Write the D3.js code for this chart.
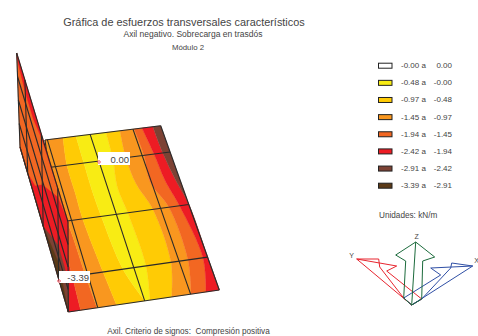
<!DOCTYPE html>
<html>
<head>
<meta charset="utf-8">
<script src="https://cdnjs.cloudflare.com/ajax/libs/d3/7.8.5/d3.min.js"></script>
<style>
body { margin: 0; background: #fff; }
text { font-family: "Liberation Sans", Arial, sans-serif; fill: #444; }
</style>
</head>
<body>
<svg id="chart" width="478" height="336"></svg>
<script>
// legend
var legendHigh = ['-0.00 a', '-0.48 a', '-0.97 a', '-1.45 a', '-1.94 a', '-2.42 a', '-2.91 a', '-3.39 a'];
var legendLow = ['0.00', '-0.00', '-0.48', '-0.97', '-1.45', '-1.94', '-2.42', '-2.91'];
var legendColors = ['#ffffff', '#f8ec14', '#ffcb05', '#f9971f', '#f26722', '#ed1c24', '#7c4234', '#5b3a17'];

// floor slab: contour boundaries, fraction across the slab at each station along it
var floorV = [0, 0.16, 0.32, 0.48, 0.8, 1];
var redDark = [0, 0, 0, 0.02, 0.06, 0.082];
var darkOrange = [0, 0, 0, 0.08, 0.15, 0.19];
var orangeGold = [0.156, 0.15, 0.177, 0.2, 0.274, 0.32];
var goldYellow = [0.268, 0.29, 0.31, 0.34, 0.4125, 0.508];
var yellowGold = [0.527, 0.53, 0.51, 0.54, 0.572, 0.541];
var goldOrange = [0.648, 0.636, 0.66, 0.73, 0.746, 0.685];
var orangeDark = [0.769, 0.785, 0.77, 0.85, 0.864, 0.813];
var darkRed = [0.838, 0.868, 0.886, 0.93, 0.968, 0.912];
var redBrown = [0.933, 0.94, 0.965, 1, 1, 1];
var floorGridV = [0, 0.16, 0.48, 0.8, 1];
var floorGridTop = [0, 0.02, 0.39, 0.76, 1];
var floorGridBottom = [0, 0.195, 0.506, 0.81, 1];

// wall: same idea, fraction across the wall at each station along it
var wallT = [0, 0.16, 0.32, 0.48, 0.8, 1];
var wallRedTop = [0.05, 0.13, 0.13, 0.04, 0, 0];
var wallRedLow = [1, 1, 0.85, 0.55, 0.1, 0];
var wallBrown = [1, 1, 1, 1, 0.63, 0.65];
var wallDarkBrown = [1, 1, 1, 1, 0.82, 1];
var wallGridT = [0, 0.16, 0.48, 0.8, 1];
var wallGridS = [0, 0.25, 0.5, 0.75, 1];

var svg = d3.select('#chart');
var line = d3.line();
var smooth = d3.line().curve(d3.curveCatmullRom);

var lerp = function(a, b, f) {
    return [d3.interpolateNumber(a[0], b[0])(f), d3.interpolateNumber(a[1], b[1])(f)];
};

// corners on the page
var fl = { tl: [45, 140], tr: [160.7, 125.7], bl: [68.3, 312], br: [219.3, 290] };
var wl = { a: [16.7, 53], d: [68, 222], b: [20, 147], c: [68.3, 312] };

var floorPt = function(u, v) { return lerp(lerp(fl.tl, fl.bl, v), lerp(fl.tr, fl.br, v), u); };
var wallPt = function(s, t) { return lerp(lerp(wl.a, wl.d, t), lerp(wl.b, wl.c, t), s); };

var bandPath = function(pt, stations, lo, hi, gen) {
    var pts = stations.map(function(v, i) { return pt(lo[i], v); });
    var back = stations.map(function(v, i) { return pt(hi[i], v); }).reverse();
    return gen(pts) + 'L' + gen(back).slice(1) + 'Z';
};

var zeros = floorV.map(function() { return 0; });
var ones = floorV.map(function() { return 1; });

var floorBands = [
    [zeros, redDark, legendColors[5]],
    [redDark, darkOrange, legendColors[4]],
    [darkOrange, orangeGold, legendColors[3]],
    [orangeGold, goldYellow, legendColors[2]],
    [goldYellow, yellowGold, legendColors[1]],
    [yellowGold, goldOrange, legendColors[2]],
    [goldOrange, orangeDark, legendColors[3]],
    [orangeDark, darkRed, legendColors[4]],
    [darkRed, redBrown, legendColors[5]],
    [redBrown, ones, legendColors[6]]
];

var wallBands = [
    [zeros, ones, legendColors[4]],
    [zeros, wallRedTop, legendColors[5]],
    [wallRedLow, ones, legendColors[5]],
    [wallBrown, ones, legendColors[6]],
    [wallDarkBrown, ones, legendColors[7]]
];

var gridColor = '#2a2a2a';

// floor
var floorLayer = svg.append('g');
floorLayer.selectAll('path.band').data(floorBands).enter().append('path')
    .attr('class', 'band')
    .attr('d', function(d) { return bandPath(floorPt, floorV, d[0], d[1], smooth); })
    .style('fill', function(d) { return d[2]; })
    .style('stroke', function(d) { return d[2]; })
    .style('stroke-width', 0.4);
floorLayer.selectAll('path.cross').data(floorGridV).enter().append('path')
    .attr('class', 'cross')
    .attr('d', function(v) { return line([floorPt(0, v), floorPt(1, v)]); })
    .style('stroke', gridColor).style('stroke-width', 1.1).style('fill', 'none');
floorLayer.selectAll('path.along').data(floorGridTop).enter().append('path')
    .attr('class', 'along')
    .attr('d', function(u, i) { return line([floorPt(u, 0), floorPt(floorGridBottom[i], 1)]); })
    .style('stroke', gridColor).style('stroke-width', 1.1).style('fill', 'none');

// wall sits in front of the floor
var wallLayer = svg.append('g');
wallLayer.selectAll('path.band').data(wallBands).enter().append('path')
    .attr('class', 'band')
    .attr('d', function(d) { return bandPath(wallPt, wallT, d[0], d[1], line); })
    .style('fill', function(d) { return d[2]; })
    .style('stroke', function(d) { return d[2]; })
    .style('stroke-width', 0.4);
wallLayer.selectAll('path.cross').data(wallGridT).enter().append('path')
    .attr('class', 'cross')
    .attr('d', function(t) { return line([wallPt(0, t), wallPt(1, t)]); })
    .style('stroke', gridColor).style('stroke-width', 1.1).style('fill', 'none');
wallLayer.selectAll('path.along').data(wallGridS).enter().append('path')
    .attr('class', 'along')
    .attr('d', function(s) { return line([wallPt(s, 0), wallPt(s, 1)]); })
    .style('stroke', gridColor).style('stroke-width', 1.1).style('fill', 'none');

// value flags
var flags = [
    { text: '0.00', x: 98, y: 152, w: 32, h: 13, mx: 99, my: 162 },
    { text: '-3.39', x: 59, y: 271, w: 31, h: 12, mx: 59, my: 281 }
];
var flag = svg.selectAll('g.flag').data(flags).enter().append('g').attr('class', 'flag');
flag.append('rect')
    .attr('x', function(d) { return d.x; }).attr('y', function(d) { return d.y; })
    .attr('width', function(d) { return d.w; }).attr('height', function(d) { return d.h; })
    .style('fill', '#fff');
flag.append('text')
    .attr('x', function(d) { return d.x + d.w - 1; })
    .attr('y', function(d) { return d.y + d.h - 2.5; })
    .attr('text-anchor', 'end').style('font-size', '9.5px')
    .text(function(d) { return d.text; });
flag.append('circle')
    .attr('cx', function(d) { return d.mx; }).attr('cy', function(d) { return d.my; })
    .attr('r', 1.3).style('fill', 'none').style('stroke', '#ed4050').style('stroke-width', 0.8);

// titles
var titles = [
    ['Gráfica de esfuerzos transversales característicos', 184, 26, 10.9],
    ['Axil negativo. Sobrecarga en trasdós', 193, 37, 8.5],
    ['Módulo 2', 188, 50, 7.8],
    ['Axil. Criterio de signos:  Compresión positiva', 188.5, 334, 8.2]
];
svg.selectAll('text.title').data(titles).enter().append('text')
    .attr('class', 'title')
    .attr('x', function(d) { return d[1]; }).attr('y', function(d) { return d[2]; })
    .attr('text-anchor', 'middle')
    .style('font-size', function(d) { return d[3] + 'px'; })
    .style('white-space', 'pre')
    .text(function(d) { return d[0]; });

// legend
var yLegend = d3.scalePoint().domain(d3.range(legendHigh.length)).range([65.7, 185.7]);
var legend = svg.selectAll('g.legend').data(legendHigh).enter().append('g')
    .attr('class', 'legend')
    .attr('transform', function(d, i) { return 'translate(0,' + yLegend(i) + ')'; });
legend.append('rect')
    .attr('x', 378.5).attr('y', -2.5).attr('width', 13.5).attr('height', 5)
    .style('fill', function(d, i) { return legendColors[i]; })
    .style('stroke', '#222').style('stroke-width', 1);
legend.append('text').attr('x', 401).attr('y', 2.5).style('font-size', '8px')
    .text(function(d) { return d; });
legend.append('text').attr('x', 452).attr('y', 2.5).attr('text-anchor', 'end').style('font-size', '8px')
    .text(function(d, i) { return legendLow[i]; });
svg.append('text').attr('x', 379).attr('y', 218).style('font-size', '8.2px').text('Unidades: kN/m');

// axes gizmo, outlines relative to its origin
var gizmoOrigin = [411.7, 305];
var yArrow = [[-8, -7], [-32, -38], [-33, -46], [-55, -46], [-15, -39], [-25, -34], [10, -6], [0, 0]];
var xArrow = [[10, -6], [39, -37], [40, -42], [61, -39], [19, -37], [29, -30], [-8, -7], [0, 0]];
var zArrow = [[-8, -7], [-6, -44], [-16, -50], [4, -63], [23, -48], [11, -44], [10, -6], [0, 0]];
var gizmo = svg.append('g').attr('transform', 'translate(' + gizmoOrigin + ')');
var arrows = [[yArrow, [-55, -46], '#e8252f'], [xArrow, [61, -39], '#2f4fa5'], [zArrow, [4, -63], '#1c6b3c']];
gizmo.selectAll('path').data(arrows).enter().append('path')
    .attr('d', function(d) { return line(d[0]) + 'Z' + line([[0, 0], d[1]]); })
    .style('fill', 'none')
    .style('stroke', function(d) { return d[2]; })
    .style('stroke-width', 1);
var axisLabels = [['Z', 5, -66], ['Y', -60, -47], ['X', 65, -42]];
gizmo.selectAll('text').data(axisLabels).enter().append('text')
    .attr('x', function(d) { return d[1]; }).attr('y', function(d) { return d[2]; })
    .attr('text-anchor', 'middle').style('font-size', '7px')
    .text(function(d) { return d[0]; });
</script>
</body>
</html>
